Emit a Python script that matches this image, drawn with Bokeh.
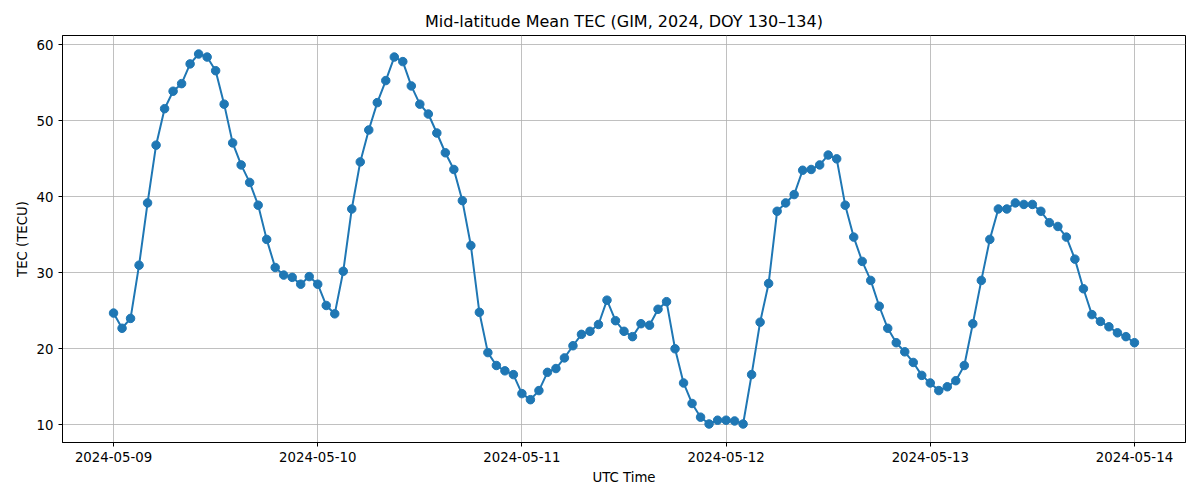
import pandas as pd
from bokeh.plotting import figure
from bokeh.models import Range1d, DaysTicker, DatetimeTickFormatter, SingleIntervalTicker
from bokeh.embed import file_html
from bokeh.resources import INLINE

start_time = "2024-05-09 00:00"
n_hours = 121

tec_day1 = [24.7, 22.7, 24.0, 31.0, 39.2, 46.8, 51.6, 53.9, 54.9, 57.5, 58.8, 58.4,
            56.6, 52.2, 47.1, 44.2, 41.9, 38.9, 34.4, 30.7, 29.7, 29.4, 28.5, 29.5]
tec_day2 = [28.5, 25.7, 24.6, 30.2, 38.4, 44.6, 48.8, 52.4, 55.3, 58.4, 57.8, 54.6,
            52.2, 50.9, 48.4, 45.8, 43.6, 39.5, 33.6, 24.8, 19.5, 17.8, 17.1, 16.6]
tec_day3 = [14.1, 13.3, 14.5, 16.9, 17.4, 18.8, 20.4, 21.9, 22.3, 23.2, 26.4, 23.7,
            22.3, 21.6, 23.3, 23.1, 25.2, 26.2, 20.0, 15.5, 12.8, 11.0, 10.1, 10.6]
tec_day4 = [10.6, 10.5, 10.1, 16.6, 23.5, 28.6, 38.1, 39.2, 40.3, 43.5, 43.6, 44.2,
            45.5, 45.0, 38.9, 34.7, 31.5, 29.0, 25.6, 22.7, 20.8, 19.6, 18.2, 16.5]
tec_day5 = [15.5, 14.5, 15.0, 15.8, 17.8, 23.3, 29.0, 34.4, 38.4, 38.4, 39.2, 39.0,
            39.0, 38.1, 36.6, 36.1, 34.7, 31.8, 27.9, 24.5, 23.6, 22.9, 22.1, 21.6, 20.8]

tec = tec_day1 + tec_day2 + tec_day3 + tec_day4 + tec_day5
times = pd.date_range(start_time, periods=n_hours, freq="h")

title_text = "Mid-latitude Mean TEC (GIM, 2024, DOY 130\u2013134)"
x_label = "UTC Time"
y_label = "TEC (TECU)"

FONT = "DejaVu Sans"
COLOR = "#1f77b4"

pad_t = (times[-1] - times[0]) * 0.05
ymin, ymax = min(tec), max(tec)
pad_y = (ymax - ymin) * 0.05

p = figure(
    x_axis_type="datetime",
    width=1192, height=492,
    frame_width=1123, frame_height=407,
    min_border_left=62, min_border_top=35, min_border_right=7, min_border_bottom=50,
    output_backend="svg", toolbar_location=None,
    x_range=Range1d(times[0] - pad_t, times[-1] + pad_t),
    y_range=Range1d(ymin - pad_y, ymax + pad_y),
)

p.title.text = title_text
p.title.align = "center"
p.title.text_font = FONT
p.title.text_font_size = "16px"
p.title.text_font_style = "normal"
p.title.text_color = "black"

p.line(times, tec, line_color=COLOR, line_width=2)
p.scatter(times, tec, size=8.5, fill_color=COLOR, line_color=COLOR)

p.xaxis.ticker = DaysTicker(days=list(range(1, 32)))
fmt = "%Y-%m-%d"
p.xaxis.formatter = DatetimeTickFormatter(days=fmt, months=fmt, years=fmt, hours=fmt,
                                          hourmin=fmt, minutes=fmt, minsec=fmt,
                                          seconds=fmt, milliseconds=fmt, microseconds=fmt)
p.yaxis.ticker = SingleIntervalTicker(interval=10)

for ax in (p.xaxis, p.yaxis):
    ax.axis_line_color = "black"
    ax.axis_line_width = 1
    ax.major_tick_line_color = "black"
    ax.major_tick_out = 4
    ax.major_tick_in = 0
    ax.minor_tick_line_color = None
    ax.major_label_text_font = FONT
    ax.major_label_text_font_size = "13.3px"
    ax.major_label_text_color = "black"
    ax.axis_label_text_font = FONT
    ax.axis_label_text_font_size = "13.3px"
    ax.axis_label_text_font_style = "normal"
    ax.axis_label_text_color = "black"

p.xaxis.axis_label = x_label
p.yaxis.axis_label = y_label
p.xaxis.axis_label_standoff = 5
p.yaxis.axis_label_standoff = 4

p.xgrid.grid_line_color = "#b0b0b0"
p.ygrid.grid_line_color = "#b0b0b0"
p.xgrid.grid_line_width = 0.8
p.ygrid.grid_line_width = 0.8

p.outline_line_color = "black"
p.outline_line_width = 1
p.outline_line_alpha = 1

p.background_fill_color = "white"
p.border_fill_color = "white"

open("out.html", "w").write(file_html(p, INLINE))
